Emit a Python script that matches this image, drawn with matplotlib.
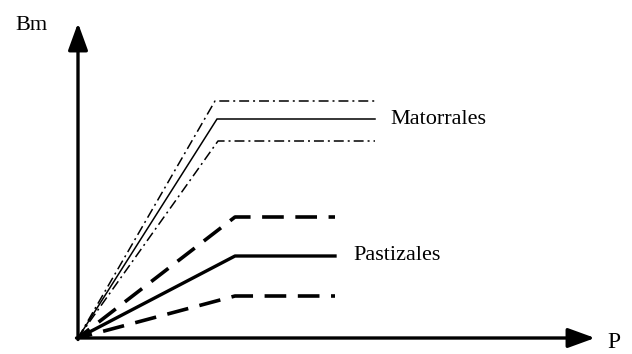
import matplotlib
matplotlib.use("Agg")
import matplotlib.pyplot as plt

plt.rcParams.update({"font.family": "Liberation Serif"})

# Bm vs P, arbitrary units (origin = 0, 0)
mat_x = [0, 139, 297]
mat_y = [0, 219, 219]
mat_hi_x = [0, 137, 297]
mat_hi_y = [0, 237, 237]
mat_lo_x = [0, 140, 297]
mat_lo_y = [0, 197, 197]

pas_x = [0, 157, 257]
pas_y = [0, 82, 82]
pas_hi_y = [0, 121, 121]
pas_lo_y = [0, 42, 42]

X_MAX, Y_MAX = 522, 318

fig = plt.figure(figsize=(6.32, 3.54), dpi=100)
ax = fig.add_axes([78 / 632, 16 / 354, X_MAX / 632, Y_MAX / 354])
ax.set_xlim(0, X_MAX)
ax.set_ylim(0, Y_MAX)
ax.axis("off")

# matorrales: thin solid + dash-dot band
ax.plot(mat_x, mat_y, color="black", lw=1.1, solid_joinstyle="miter")
for xs, ys in [(mat_hi_x, mat_hi_y), (mat_lo_x, mat_lo_y)]:
    ax.plot(xs, ys, color="black", lw=1.1, linestyle=(0, (6.5, 2.6, 1.3, 2.6)))

# pastizales: thick solid + thick dashed band
ax.plot(pas_x, pas_y, color="black", lw=2.4)
for ys in (pas_hi_y, pas_lo_y):
    ax.plot(pas_x, ys, color="black", lw=2.6, linestyle=(2.0, (6.0, 3.2)))

# axes arrows
arrow = dict(arrowstyle="-|>,head_length=1.65,head_width=0.6", lw=2.4,
             color="black", mutation_scale=10, shrinkA=0, shrinkB=0)
ax.annotate("", xy=(X_MAX - 5, 0), xytext=(-1.5, 0), arrowprops=arrow,
            annotation_clip=False)
ax.annotate("", xy=(0, Y_MAX - 3), xytext=(0, -1.5), arrowprops=arrow,
            annotation_clip=False)

ax.text(mat_x[-1] + 15, mat_y[-1], "Matorrales", fontsize=16, va="center")
ax.text(pas_x[-1] + 18, pas_y[-1], "Pastizales", fontsize=16, va="center")
fig.text(607 / 632, 1 - 342 / 354, "P", fontsize=17, va="center", ha="left")
fig.text(15 / 632, 1 - 25 / 354, "Bm", fontsize=16, va="center", ha="left")

fig.savefig("out.png", dpi=100)
